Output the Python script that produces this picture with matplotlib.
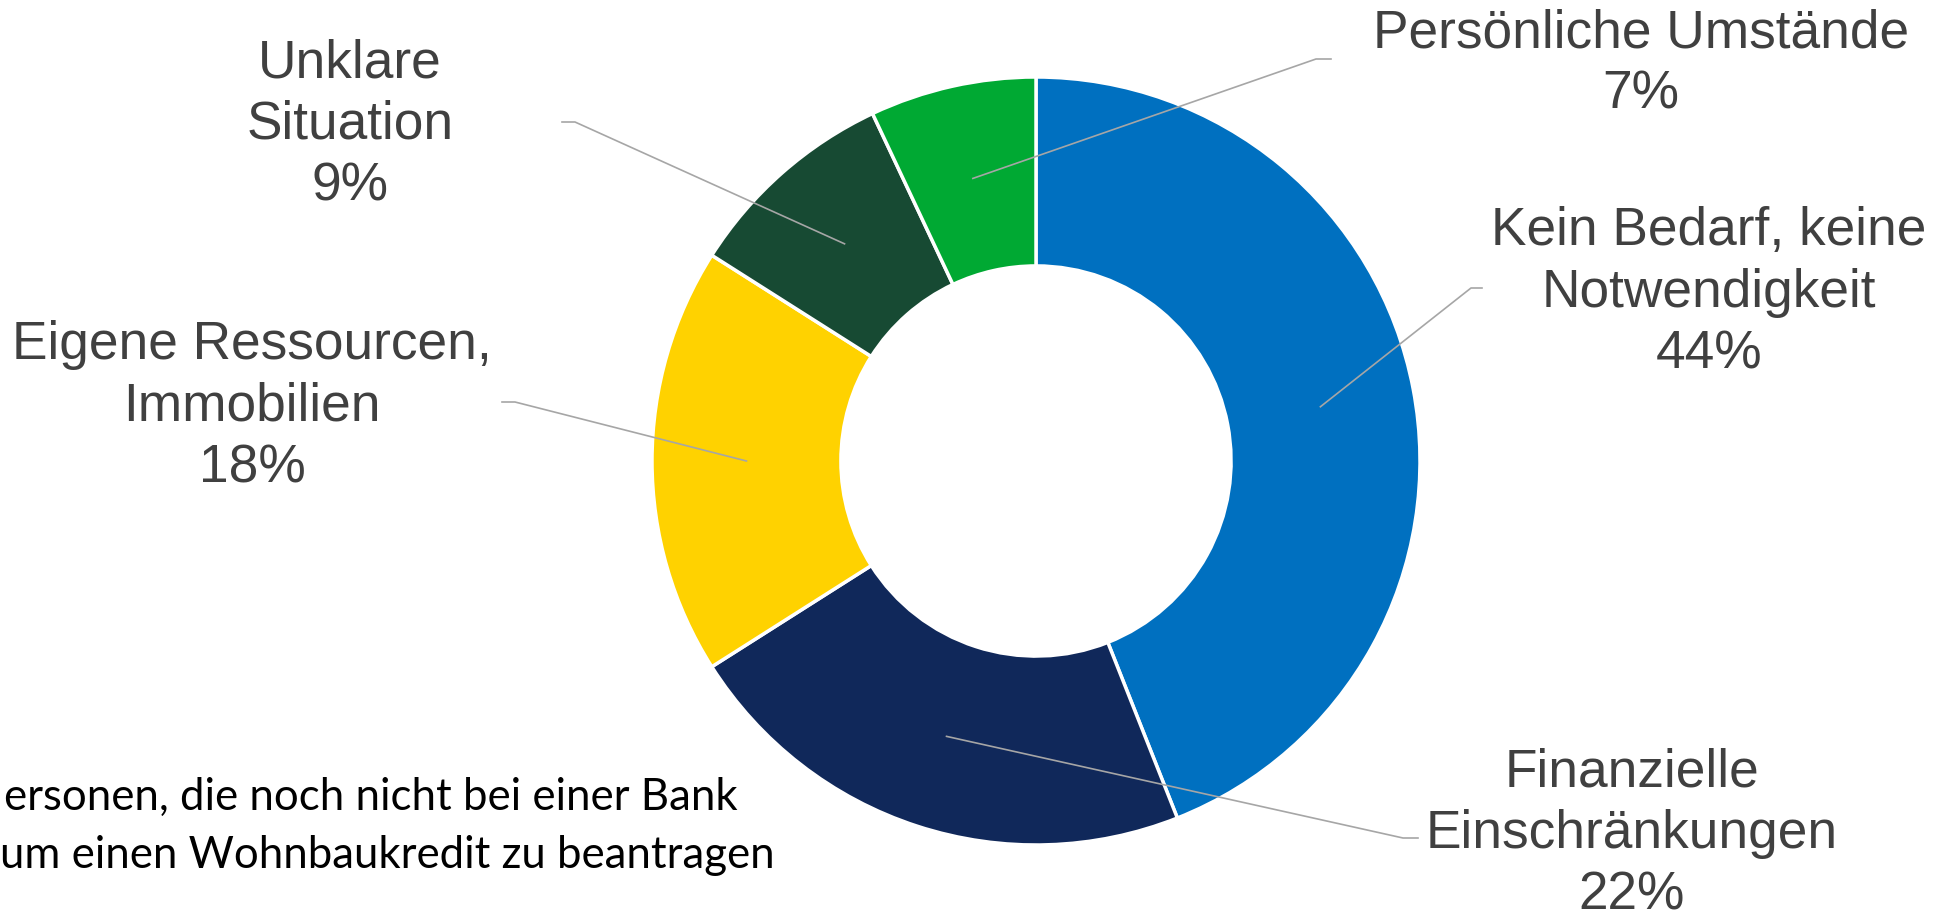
import numpy as np
import matplotlib
matplotlib.use("Agg")
import matplotlib.pyplot as plt

categories = [
    "Kein Bedarf, keine\nNotwendigkeit",
    "Finanzielle\nEinschränkungen",
    "Eigene Ressourcen,\nImmobilien",
    "Unklare\nSituation",
    "Persönliche Umstände",
]
shares = [44, 22, 18, 9, 7]
footnote = ["ersonen, die noch nicht bei einer Bank",
            "um einen Wohnbaukredit zu beantragen"]

colors = ["#0070C0", "#10285A", "#FFD200", "#174A33", "#00A933"]

W, H = 1938, 921
CX, CY, R = 1036, 461, 384  # donut centre / radius in pixels


def px2d(px, py):
    # pixel position (top-left origin) -> data coords (radius 1 donut)
    return (px - CX) / R, (CY - py) / R


# label anchors and leader elbows, in pixels
label_pos = [(1709, 293), (1632, 834), (252, 407), (350, 125), (1641, 64)]
elbow_pos = [(1471, 288), (1403, 838), (515, 402), (575, 122), (1316, 59)]
elbow_end = [(1482, 288), (1418, 838), (502, 402), (562, 122), (1331, 59)]

fig = plt.figure(figsize=(W / 100, H / 100), dpi=100)
ax = fig.add_axes([0, 0, 1, 1])

ring = 0.492
wedges, _ = ax.pie(shares, colors=colors, startangle=90, counterclock=False,
                   radius=1, center=(0, 0), frame=True,
                   wedgeprops=dict(width=ring, edgecolor="white", linewidth=2.5))
ax.set_xlim(-CX / R, (W - CX) / R)
ax.set_ylim(-(H - CY) / R, CY / R)
ax.set_aspect("equal")
ax.axis("off")

for w, cat, val, lp, ep, ee in zip(wedges, categories, shares,
                                   label_pos, elbow_pos, elbow_end):
    mid = np.deg2rad((w.theta1 + w.theta2) / 2)
    r0 = 1 - ring / 2
    sx, sy = r0 * np.cos(mid), r0 * np.sin(mid)
    ex, ey = px2d(*ep)
    fx, fy = px2d(*ee)
    ax.plot([sx, ex, fx], [sy, ey, fy], color="#A6A6A6", lw=1.2, zorder=5)
    tx, ty = px2d(*lp)
    ax.text(tx, ty, f"{cat}\n{val}%", ha="center", va="center",
            fontsize=38.3, color="#404040", family="Liberation Sans",
            linespacing=1.3)

# footnote, cut off at the left edge like in the source slide
fx0, fy0 = px2d(4, 797)
ax.text(fx0, fy0, footnote[0], ha="left", va="center", fontsize=31.5,
        color="black", family="Lato")
fx1, fy1 = px2d(0, 855)
ax.text(fx1, fy1, footnote[1], ha="left", va="center", fontsize=31.5,
        color="black", family="Lato")

fig.savefig("out.png", dpi=100, facecolor="white")
